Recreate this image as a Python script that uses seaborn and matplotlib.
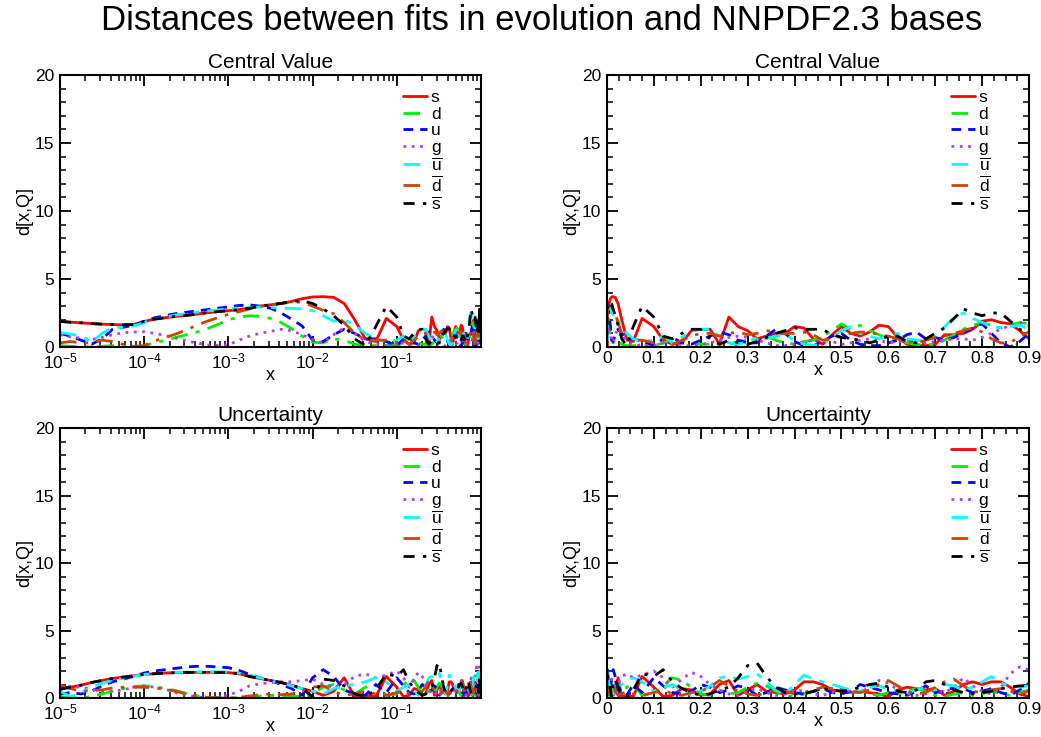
import numpy as np
import matplotlib
matplotlib.use("Agg")
import matplotlib.pyplot as plt
import seaborn as sns
from matplotlib.ticker import LogLocator, NullFormatter, MultipleLocator, FixedLocator, FixedFormatter

sns.set_theme(style="ticks")
plt.rcParams['font.family'] = ['Liberation Sans', 'DejaVu Sans']
plt.rcParams['mathtext.fontset'] = 'custom'
plt.rcParams['mathtext.rm'] = 'Liberation Sans'
plt.rcParams['mathtext.it'] = 'Liberation Sans:italic'
plt.rcParams['mathtext.bf'] = 'Liberation Sans:bold'
plt.rcParams['text.color'] = 'black'
plt.rcParams['axes.labelcolor'] = 'black'
plt.rcParams['xtick.color'] = 'black'
plt.rcParams['ytick.color'] = 'black'

# ---------------- data ----------------
title = "Distances between fits in evolution and NNPDF2.3 bases"
panel_titles = ["Central Value", "Uncertainty"]
series_labels = ["s", "d", "u", "g", r"$\overline{\mathrm{u}}$", r"$\overline{\mathrm{d}}$", r"$\overline{\mathrm{s}}$"]
log_ticks = [1e-5, 1e-4, 1e-3, 1e-2, 1e-1]
lin_ticks = [0, 0.1, 0.2, 0.3, 0.4, 0.5, 0.6, 0.7, 0.8, 0.9]
lin_tick_labels = ["0", "0.1", "0.2", "0.3", "0.4", "0.5", "0.6", "0.7", "0.8", "0.9"]
y_ticks = [0, 5, 10, 15, 20]

# x grid: 32 log points 1e-5..0.075 and 46 linear points 0.10..1.00
x_small = np.logspace(-5, -1, 33)[:-1]
x_large = np.round(np.arange(0.10, 1.001, 0.02), 2)

# Central value, small x
cv_s_small = [1.88, 1.82, 1.78, 1.72, 1.68, 1.65, 1.63, 1.65, 1.88, 2.05, 2.15, 2.25, 2.32, 2.42, 2.52, 2.60,
              2.67, 2.75, 2.85, 3.00, 3.10, 3.20, 3.35, 3.55, 3.68, 3.70, 3.65, 3.20, 2.00, 0.60, 0.40, 2.10]
cv_d_small = [0.10, 0.05, 0.00, 0.00, 0.05, 0.10, 0.05, 0.00, 0.10, 0.30, 0.50, 0.70, 0.90, 1.10, 1.35, 1.65,
              2.00, 2.20, 2.30, 2.25, 2.10, 1.80, 1.35, 0.80, 0.35, 0.30, 0.60, 0.50, 0.20, 0.10, 0.10, 0.10]
cv_u_small = [1.00, 0.80, 0.50, 0.20, 0.60, 1.30, 1.45, 1.60, 1.88, 2.15, 2.30, 2.45, 2.55, 2.65, 2.75, 2.85,
              2.95, 3.05, 3.10, 3.00, 2.85, 2.50, 2.05, 1.55, 0.50, 0.40, 0.90, 1.30, 1.00, 0.60, 0.60, 0.40]
cv_g_small = [0.90, 0.75, 0.65, 0.55, 0.70, 0.90, 1.05, 1.10, 1.13, 1.00, 0.85, 0.65, 0.45, 0.30, 0.15, 0.12,
              0.15, 0.50, 0.80, 1.00, 1.15, 1.30, 1.20, 0.90, 0.55, 0.30, 0.90, 1.40, 1.00, 0.40, 0.20, 0.10]
cv_ubar_small = [1.06, 0.95, 0.80, 0.35, 1.00, 1.40, 1.45, 1.55, 1.80, 2.05, 2.20, 2.35, 2.45, 2.55, 2.65, 2.72,
                 2.80, 2.88, 2.92, 2.94, 2.90, 2.86, 2.84, 2.80, 2.67, 2.30, 1.90, 2.00, 1.60, 1.00, 0.60, 0.40]
cv_dbar_small = [0.30, 0.40, 0.30, 0.30, 0.50, 0.40, 0.20, 0.05, 0.10, 0.45, 0.70, 0.95, 1.25, 1.60, 1.90, 2.15,
                 2.40, 2.60, 2.80, 3.00, 3.10, 3.20, 3.30, 3.30, 3.00, 2.70, 2.45, 1.80, 1.00, 0.50, 0.50, 0.50]
cv_sbar_small = [1.88, 1.82, 1.78, 1.72, 1.68, 1.65, 1.63, 1.65, 1.88, 2.05, 2.15, 2.25, 2.32, 2.42, 2.52, 2.60,
                 2.67, 2.75, 2.85, 3.00, 3.10, 3.20, 3.36, 3.40, 3.20, 2.80, 2.30, 1.60, 0.60, 0.10, 1.50, 3.00]

# Central value, x = 0.10 .. 1.00
cv_s_large = [1.5, 0.5, 0.2, 0.3, 1.2, 1.3, 1.3, 0.2, 2.2, 1.5, 1.2, 0.6, 0.8, 1.0, 1.0, 1.5, 1.4, 0.6, 0.2, 0.9,
              1.5, 1.0, 0.8, 1.1, 1.6, 1.5, 0.7, 0.2, 0.1, 0.1, 0.2, 0.9, 0.9, 1.0, 1.3, 1.9, 2.0, 1.8, 1.7, 1.2,
              0.6, 1.4, 0.5, 1.6, 0.8, 1.2]
cv_d_large = [0.1, 0.3, 0.6, 0.5, 0.3, 0.2, 0.2, 0.1, 0.2, 0.4, 0.5, 0.6, 0.8, 0.5, 0.3, 0.2, 0.4, 0.5, 0.8, 1.2,
              1.7, 1.3, 1.6, 1.2, 0.9, 0.6, 0.5, 0.3, 0.2, 0.1, 0.2, 0.5, 0.9, 1.3, 1.6, 1.8, 1.6, 1.4, 1.6, 1.8,
              1.7, 0.5, 2.0, 0.3, 1.4, 0.8]
cv_u_large = [0.1, 0.6, 0.7, 0.3, 0.2, 0.5, 0.8, 1.1, 0.9, 0.5, 0.3, 0.3, 0.8, 1.3, 1.0, 0.4, 0.1, 0.1, 0.4, 0.8,
              1.0, 0.5, 0.2, 0.1, 0.1, 0.3, 0.5, 0.9, 1.1, 0.6, 0.7, 0.5, 0.7, 1.0, 1.4, 1.7, 1.0, 0.3, 0.0, 0.4,
              1.0, 1.6, 0.3, 1.2, 0.4, 1.8]
cv_g_large = [0.1, 0.3, 0.2, 0.1, 0.1, 0.2, 0.3, 0.5, 0.7, 0.8, 0.7, 0.5, 0.3, 0.1, 0.1, 0.2, 0.4, 0.5, 0.5, 0.4,
              0.2, 0.3, 0.5, 0.6, 0.5, 0.3, 0.4, 0.5, 0.4, 0.3, 0.4, 0.5, 0.6, 0.6, 0.5, 0.7, 1.0, 1.3, 1.6, 1.8,
              1.6, 0.2, 1.2, 0.5, 1.6, 0.4]
cv_ubar_large = [0.5, 0.8, 0.3, 0.7, 1.2, 1.3, 1.3, 0.8, 0.3, 0.2, 0.4, 0.7, 0.6, 0.8, 0.9, 0.5, 0.2, 0.1, 0.3, 0.7,
                 1.2, 1.5, 1.0, 0.8, 0.6, 0.8, 1.0, 0.6, 0.5, 0.4, 0.8, 1.5, 2.2, 2.5, 2.1, 1.8, 1.5, 1.4, 1.5, 1.6,
                 1.3, 0.6, 1.8, 0.9, 1.5, 0.7]
cv_dbar_large = [0.3, 0.6, 0.2, 0.5, 0.8, 1.0, 1.0, 0.8, 1.0, 1.1, 0.9, 1.0, 1.2, 1.1, 1.0, 1.0, 1.1, 0.9, 0.5, 0.6,
                 0.8, 1.0, 1.1, 1.1, 0.9, 0.8, 0.6, 0.4, 0.3, 0.5, 0.7, 0.8, 1.0, 1.2, 1.4, 1.1, 0.6, 0.3, 0.3, 0.8,
                 1.1, 0.4, 1.5, 0.6, 2.0, 1.0]
cv_sbar_large = [2.2, 0.8, 0.6, 1.0, 1.3, 1.3, 0.6, 0.2, 0.5, 0.3, 0.2, 0.4, 0.7, 1.0, 1.2, 1.4, 1.3, 1.3, 1.3, 0.9,
                 0.7, 0.6, 0.5, 0.3, 0.5, 0.8, 0.8, 0.4, 0.3, 0.6, 1.0, 1.4, 2.1, 2.8, 2.5, 2.3, 2.5, 2.5, 1.9, 1.3,
                 1.0, 2.0, 0.8, 3.1, 1.5, 2.5]

# Uncertainty, small x
un_s_small = [0.65, 0.80, 0.95, 1.15, 1.30, 1.45, 1.55, 1.65, 1.75, 1.80, 1.85, 1.88, 1.90, 1.90, 1.90, 1.90,
              1.88, 1.80, 1.60, 1.45, 1.30, 1.15, 0.95, 0.70, 0.50, 0.20, 0.50, 1.50, 0.10, 0.20, 0.10, 1.60]
un_d_small = [0.10, 0.05, 0.00, 0.10, 0.30, 0.50, 0.70, 0.85, 0.90, 0.85, 0.70, 0.55, 0.35, 0.15, 0.05, 0.00,
              0.00, 0.05, 0.10, 0.15, 0.20, 0.20, 0.15, 0.10, 0.30, 0.80, 1.00, 0.60, 0.30, 0.80, 1.00, 0.20]
un_u_small = [0.30, 0.40, 0.30, 0.50, 0.90, 1.20, 1.40, 1.60, 1.85, 2.00, 2.10, 2.20, 2.30, 2.35, 2.35, 2.30,
              2.25, 2.05, 1.75, 1.50, 1.30, 1.00, 0.70, 0.20, 1.50, 2.10, 1.60, 0.60, 0.30, 0.20, 1.00, 0.40]
un_g_small = [0.90, 0.85, 0.80, 0.65, 0.50, 0.50, 0.60, 0.80, 0.90, 0.80, 0.65, 0.40, 0.20, 0.10, 0.00, 0.05,
              0.20, 0.50, 0.90, 1.05, 1.15, 1.20, 1.20, 1.30, 1.40, 1.00, 0.80, 1.00, 1.60, 1.80, 1.50, 1.70]
un_ubar_small = [0.50, 0.10, 0.40, 0.80, 1.10, 1.30, 1.45, 1.60, 1.75, 1.82, 1.87, 1.90, 1.92, 1.95, 1.95, 1.95,
                 1.93, 1.85, 1.70, 1.50, 1.30, 1.10, 0.90, 0.70, 0.50, 0.30, 0.70, 0.90, 1.00, 1.20, 1.50, 1.20]
un_dbar_small = [0.90, 0.70, 0.50, 0.55, 0.60, 0.75, 0.80, 0.80, 0.80, 0.75, 0.65, 0.50, 0.30, 0.20, 0.05, 0.00,
                 0.00, 0.05, 0.15, 0.25, 0.30, 0.25, 0.30, 0.50, 0.80, 0.90, 0.50, 0.20, 0.30, 0.50, 0.30, 0.20]
un_sbar_small = [0.65, 0.80, 0.95, 1.15, 1.30, 1.45, 1.55, 1.65, 1.75, 1.80, 1.85, 1.88, 1.90, 1.90, 1.90, 1.90,
                 1.88, 1.80, 1.60, 1.45, 1.30, 1.15, 0.95, 0.70, 0.10, 1.40, 1.30, 0.90, 0.30, 0.10, 0.60, 1.80]

# Uncertainty, x = 0.10 .. 1.00
un_s_large = [0.8, 0.1, 0.2, 0.7, 0.6, 0.2, 0.3, 1.0, 1.3, 0.2, 0.6, 1.0, 0.5, 0.4, 0.3, 0.6, 1.2, 1.2, 1.0, 0.6,
              0.5, 0.4, 0.5, 0.4, 0.3, 0.1, 0.6, 0.8, 0.7, 0.6, 0.7, 0.2, 0.5, 1.0, 1.2, 1.0, 1.2, 1.2, 0.8, 0.3,
              0.1, 0.8, 0.2, 1.0, 0.3, 0.6]
un_d_large = [0.3, 0.9, 1.5, 1.3, 0.8, 0.3, 0.2, 0.6, 0.3, 0.4, 0.8, 1.1, 0.9, 0.5, 0.2, 0.1, 0.3, 0.5, 0.6, 0.7,
              0.5, 0.4, 0.6, 0.3, 0.2, 0.4, 0.3, 0.5, 0.7, 0.5, 0.2, 0.1, 0.3, 0.4, 0.2, 0.3, 0.5, 0.3, 0.2, 0.4,
              0.6, 1.4, 0.3, 1.6, 0.2, 1.0]
un_u_large = [1.5, 0.9, 0.4, 0.3, 0.5, 1.0, 0.8, 0.4, 0.6, 0.9, 0.7, 0.2, 0.4, 0.8, 0.6, 0.4, 0.3, 0.5, 0.7, 0.4,
              0.3, 0.5, 1.0, 0.8, 0.6, 0.4, 0.3, 0.2, 0.5, 0.9, 0.4, 0.5, 0.8, 0.7, 0.4, 0.5, 0.7, 0.4, 0.2, 0.6,
              1.1, 0.2, 1.5, 0.1, 1.2, 0.5]
un_g_large = [2.0, 1.5, 0.8, 1.4, 1.9, 1.6, 1.0, 0.6, 0.3, 0.2, 0.5, 0.7, 0.4, 0.2, 0.3, 0.6, 0.5, 0.3, 0.2, 0.4,
              0.6, 0.5, 0.4, 0.8, 1.3, 1.1, 0.6, 0.3, 0.2, 0.3, 0.6, 0.4, 0.8, 1.5, 0.9, 0.5, 0.3, 0.8, 1.8, 2.3,
              2.1, 1.2, 2.4, 0.5, 2.2, 1.0]
un_ubar_large = [0.5, 0.8, 1.0, 0.6, 0.2, 0.5, 0.9, 1.5, 1.6, 1.4, 1.6, 1.8, 1.2, 0.6, 0.3, 1.0, 1.7, 1.4, 1.2, 1.0,
                 0.8, 0.6, 0.5, 0.8, 0.9, 0.7, 0.5, 0.4, 0.6, 0.8, 0.6, 1.0, 0.9, 0.6, 0.8, 1.2, 1.6, 1.1, 0.9, 0.8,
                 0.9, 1.9, 0.4, 1.3, 2.0, 0.6]
un_dbar_large = [0.4, 0.6, 0.3, 0.2, 0.4, 0.5, 0.8, 1.3, 0.9, 0.5, 0.3, 0.2, 0.4, 0.6, 0.5, 0.3, 0.4, 0.6, 0.8, 0.7,
                 0.6, 0.5, 0.4, 0.6, 1.0, 1.3, 0.9, 0.5, 0.3, 0.4, 0.8, 1.2, 1.4, 0.9, 0.5, 0.4, 0.6, 0.7, 0.5, 0.3,
                 0.5, 1.0, 0.2, 1.5, 0.7, 1.3]
un_sbar_large = [1.6, 2.1, 1.2, 0.7, 0.4, 0.2, 0.3, 0.6, 0.8, 1.5, 2.4, 2.6, 1.6, 0.8, 0.4, 0.3, 0.3, 0.5, 0.7, 0.6,
                 0.5, 0.6, 0.8, 1.0, 1.1, 0.8, 0.5, 0.4, 0.6, 1.2, 1.3, 1.0, 0.6, 0.4, 0.3, 0.4, 0.5, 0.7, 0.8, 0.9,
                 0.9, 1.3, 0.4, 1.7, 0.6, 1.1]

cv_small = [cv_s_small, cv_d_small, cv_u_small, cv_g_small, cv_ubar_small, cv_dbar_small, cv_sbar_small]
cv_large = [cv_s_large, cv_d_large, cv_u_large, cv_g_large, cv_ubar_large, cv_dbar_large, cv_sbar_large]
un_small = [un_s_small, un_d_small, un_u_small, un_g_small, un_ubar_small, un_dbar_small, un_sbar_small]
un_large = [un_s_large, un_d_large, un_u_large, un_g_large, un_ubar_large, un_dbar_large, un_sbar_large]

# ---------------- style ----------------
colors = ["#ff0000", "#00ee00", "#0000ff", "#b43cf0", "#00ffff", "#cc4400", "#000000"]
styles = ['-', (0, (6, 3, 1.5, 3)), (0, (3.5, 2.5)), (0, (1, 2)), (0, (6, 3, 2, 3)),
          (0, (6, 3, 1.2, 3)), (0, (4, 3, 1.2, 3))]
LW = 2.0
TICK_FS = 12.5

fig = plt.figure(figsize=(10.41, 7.37), dpi=100)
fig.patch.set_facecolor("white")

positions = {
    (0, 0): [0.0576, 0.5292, 0.4045, 0.3690],
    (0, 1): [0.5830, 0.5292, 0.4055, 0.3690],
    (1, 0): [0.0576, 0.0529, 0.4045, 0.3663],
    (1, 1): [0.5830, 0.0529, 0.4055, 0.3663],
}

rows = [(cv_small, cv_large), (un_small, un_large)]

for r, (small, large) in enumerate(rows):
    for c in range(2):
        ax = fig.add_axes(positions[(r, c)])
        ax.set_facecolor("white")
        for vals_s, vals_l, lab, col, ls in zip(small, large, series_labels, colors, styles):
            xv = np.concatenate([x_small, x_large])
            yv = np.concatenate([vals_s, vals_l])
            sns.lineplot(x=xv, y=yv, ax=ax, color=col, linestyle=ls, linewidth=LW,
                         label=lab, estimator=None, sort=False, legend=False)
        ax.set_ylim(0, 20)
        ax.yaxis.set_major_locator(FixedLocator(y_ticks))
        ax.yaxis.set_minor_locator(MultipleLocator(1))
        if c == 0:
            ax.set_xscale('log')
            ax.set_xlim(1e-5, 1)
            ax.xaxis.set_major_locator(FixedLocator(log_ticks))
            ax.xaxis.set_minor_locator(LogLocator(base=10, subs=np.arange(2, 10), numticks=20))
            ax.xaxis.set_minor_formatter(NullFormatter())
        else:
            ax.set_xlim(0, 0.9)
            ax.xaxis.set_major_locator(FixedLocator(lin_ticks))
            ax.xaxis.set_major_formatter(FixedFormatter(lin_tick_labels))
            ax.xaxis.set_minor_locator(MultipleLocator(0.025))
        ax.tick_params(axis='both', which='major', direction='in', length=8, width=1.3,
                       top=True, right=True, labelsize=TICK_FS, pad=4, colors='black')
        ax.tick_params(axis='both', which='minor', direction='in', length=4, width=1.1,
                       top=True, right=True)
        ax.tick_params(axis='x', which='major', pad=3)
        for sp in ax.spines.values():
            sp.set_linewidth(1.5)
            sp.set_color('black')
            sp.set_visible(True)
        ax.set_xlabel("x", fontsize=13, labelpad=-3)
        ax.set_ylabel("d[x,Q]", fontsize=13, labelpad=1)
        ax.set_title(panel_titles[r], fontsize=15, pad=5)
        ax.legend(loc='upper left', bbox_to_anchor=(0.815, 0.945), frameon=False, fontsize=12.5,
                  handlelength=1.4, handletextpad=0.2, labelspacing=0.08, borderpad=0,
                  borderaxespad=0)

fig.text(542 / 1041, 1 - 21 / 737, title, ha='center', va='center', fontsize=25)

fig.savefig("out.png", dpi=100, facecolor="white")
